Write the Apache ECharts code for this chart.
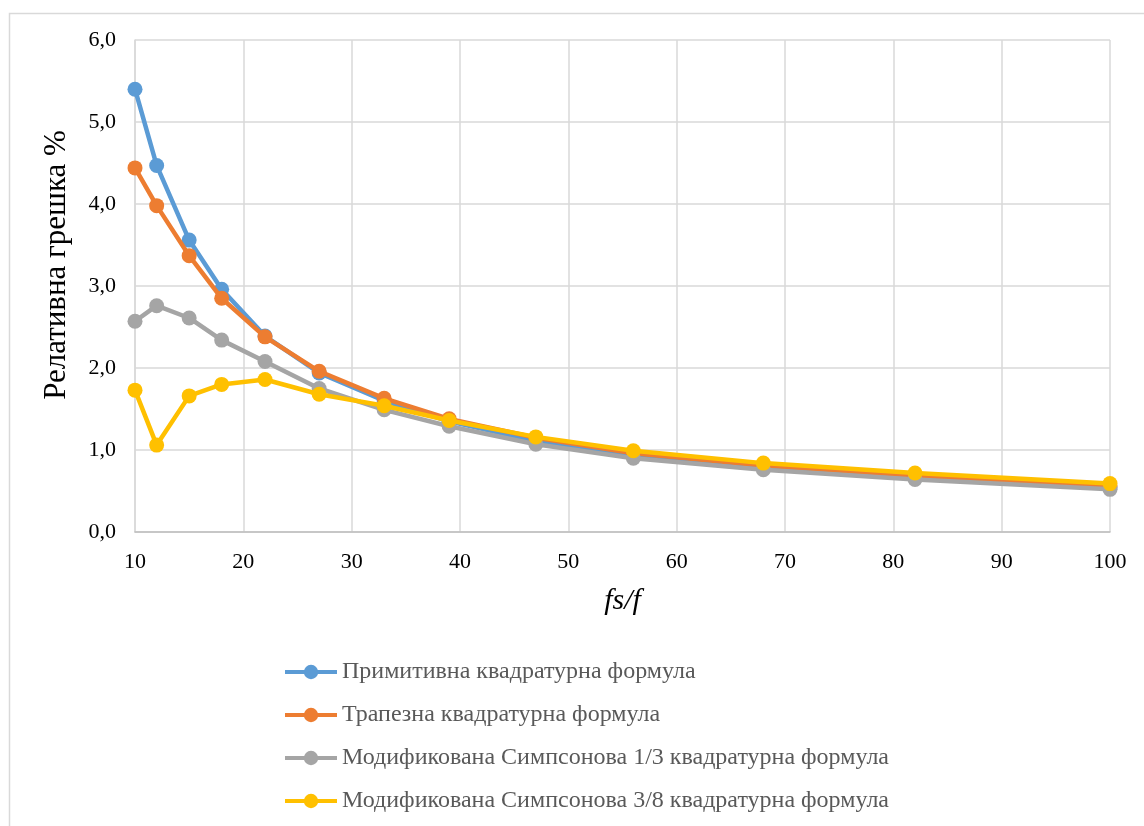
<!DOCTYPE html>
<html>
<head>
<meta charset="utf-8">
<title>Релативна грешка</title>
<script src="https://cdn.jsdelivr.net/npm/echarts@6/dist/echarts.min.js"></script>
<style>
  html, body { margin: 0; padding: 0; background: #ffffff; }
  #chart { width: 1144px; height: 826px; }
</style>
</head>
<body>
<div id="chart"></div>
<script>
// Sampling ratio fs/f
const ratios = [10, 12, 15, 18, 22, 27, 33, 39, 47, 56, 68, 82, 100];

// Relative error (%) for each quadrature formula
const primitiveErr = [5.40, 4.47, 3.56, 2.96, 2.39, 1.94, 1.60, 1.35, 1.11, 0.93, 0.79, 0.66, 0.54];
const trapezoidErr = [4.44, 3.98, 3.37, 2.85, 2.38, 1.96, 1.63, 1.38, 1.15, 0.96, 0.81, 0.69, 0.56];
const simpson13Err = [2.57, 2.76, 2.61, 2.34, 2.08, 1.75, 1.49, 1.29, 1.07, 0.90, 0.76, 0.64, 0.52];
const simpson38Err = [1.73, 1.06, 1.66, 1.80, 1.86, 1.68, 1.54, 1.36, 1.16, 0.99, 0.84, 0.72, 0.59];

const seriesNames = [
  'Примитивна квадратурна формула',
  'Трапезна квадратурна формула',
  'Модификована Симпсонова 1/3 квадратурна формула',
  'Модификована Симпсонова 3/8 квадратурна формула'
];
const seriesValues = [primitiveErr, trapezoidErr, simpson13Err, simpson38Err];
const seriesColors = ['#5B9BD5', '#ED7D31', '#A5A5A5', '#FFC000'];

const serif = '"Liberation Serif", "DejaVu Serif", serif';

const chart = echarts.init(document.getElementById('chart'), null, { renderer: 'canvas' });

chart.setOption({
  animation: false,
  backgroundColor: '#ffffff',
  color: seriesColors,
  graphic: [{
    type: 'rect',
    left: 7, top: 11,
    shape: { width: 1160, height: 840 },
    style: { fill: 'none', stroke: '#d9d9d9', lineWidth: 1.5 },
    silent: true
  }],
  grid: { left: 135, right: 34, top: 40, bottom: 294, containLabel: false },
  xAxis: {
    type: 'value',
    min: 10, max: 100, interval: 10,
    name: 'fs/f',
    nameLocation: 'middle',
    nameGap: 54,
    nameTextStyle: { fontFamily: serif, fontSize: 30, fontStyle: 'italic', color: '#000' },
    axisLine: { show: true, lineStyle: { color: '#bfbfbf', width: 1.5 } },
    axisTick: { show: false },
    axisLabel: { fontFamily: serif, fontSize: 22, color: '#000', margin: 19 },
    splitLine: { show: true, lineStyle: { color: '#d9d9d9', width: 1.5 } }
  },
  yAxis: {
    type: 'value',
    min: 0, max: 6, interval: 1,
    name: 'Релативна грешка %',
    nameLocation: 'middle',
    nameRotate: 90,
    nameGap: 63,
    nameTextStyle: { fontFamily: serif, fontSize: 31, color: '#000', padding: [0, 0, 0, 42] },
    axisLine: { show: true, lineStyle: { color: '#d9d9d9', width: 1.5 } },
    axisTick: { show: false },
    axisLabel: {
      fontFamily: serif, fontSize: 22, color: '#000', margin: 19,
      formatter: v => v.toFixed(1).replace('.', ',')
    },
    splitLine: { show: true, lineStyle: { color: '#d9d9d9', width: 1.5 } }
  },
  legend: {
    orient: 'vertical',
    left: 283, top: 660,
    padding: 0,
    itemWidth: 52, itemHeight: 18,
    itemGap: 19,
    lineStyle: { width: 4 },
    textStyle: { fontFamily: serif, fontSize: 24, lineHeight: 24, color: '#595959' },
    data: seriesNames
  },
  series: seriesNames.map((name, i) => ({
    name,
    type: 'line',
    data: ratios.map((x, j) => [x, seriesValues[i][j]]),
    symbol: 'circle',
    symbolSize: 15,
    lineStyle: { width: 4.5, color: seriesColors[i] },
    itemStyle: { color: seriesColors[i] },
    z: 2 + i
  }))
});
</script>
</body>
</html>
